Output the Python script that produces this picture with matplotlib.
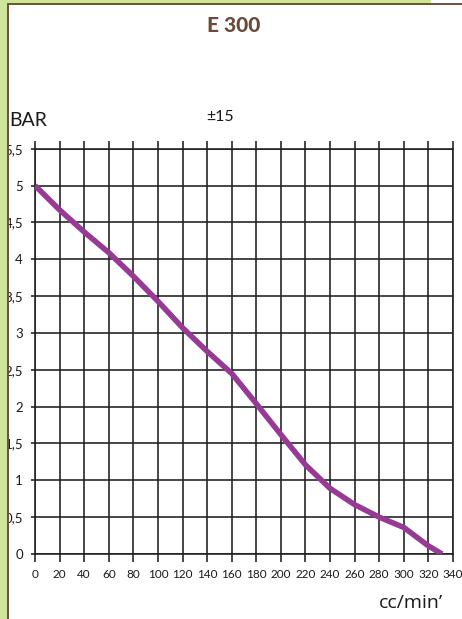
import matplotlib
matplotlib.use("Agg")
import matplotlib.pyplot as plt
from matplotlib.patches import Rectangle

# flow (cc/min) vs pressure (bar)
flow = [0, 20, 40, 60, 80, 100, 120, 140, 160, 180, 200, 220, 240, 260, 280, 300, 320, 331]
pressure = [5.0, 4.67, 4.37, 4.09, 3.77, 3.43, 3.07, 2.75, 2.45, 2.04, 1.62, 1.21, 0.89, 0.67, 0.50, 0.36, 0.11, 0.0]

x_ticks = list(range(0, 341, 20))
y_ticks = [i * 0.5 for i in range(12)]
y_labels = ["0", "0,5", "1", "1,5", "2", "2,5", "3", "3,5", "4", "4,5", "5", "5,5"]

W, H = 462, 619
fig = plt.figure(figsize=(W / 100, H / 100), dpi=100)
fig.patch.set_facecolor("white")

ax = fig.add_axes([35 / W, (H - 554) / H, 418 / W, (554 - 148.7) / H])
ax.set_xlim(0, 340)
ax.set_ylim(0, 5.5)

grid_col = "#1e1e1e"
ax.set_xticks(x_ticks)
ax.set_xticklabels([str(v) for v in x_ticks])
ax.set_yticks(y_ticks)
ax.set_yticklabels(y_labels)
ax.grid(True, color=grid_col, lw=1.15)
for s in ax.spines.values():
    s.set_color(grid_col)
    s.set_linewidth(1.15)

lab_font = ["Lato", "DejaVu Sans"]
ax.tick_params(axis="x", top=True, direction="out", length=6, width=1.15,
               color=grid_col, pad=4.5, labelsize=8.5, labelcolor="#1a1a1a")
ax.tick_params(axis="y", direction="out", length=2.6, width=1.15,
               color=grid_col, pad=6, labelsize=9.5, labelcolor="#1a1a1a")
for lab in ax.get_xticklabels() + ax.get_yticklabels():
    lab.set_fontfamily(lab_font)

ax.plot(flow, pressure, color="#963a96", lw=4, solid_capstyle="butt", zorder=3)

fig.text(234 / W, 1 - 26 / H, "E 300", ha="center", va="center",
         fontsize=15, fontweight="black", color="#6b4a3a", family=["Lato", "DejaVu Sans"])
fig.text(47 / W, 1 - 120 / H, "BAR", ha="right", va="center", fontsize=14,
         color="#1a1a1a", family=["Lato", "DejaVu Sans"])
fig.text(220 / W, 1 - 117 / H, "±15", ha="center", va="center", fontsize=11.5,
         color="#1a1a1a", family=["Lato", "DejaVu Sans"])
fig.text(443 / W, 1 - 603 / H, "cc/min’", ha="right", va="center", fontsize=14,
         color="#1a1a1a", family=["Open Sans", "DejaVu Sans"])

# page frame: green margin and brown rule on the left and top
green = "#d0e59c"
brown = "#6e5343"
frame = [
    (0, 0, 6.5, H, green),
    (6.5, 0, 2.2, H, brown),
    (0, H - 2.7, 431, 2.7, green),
    (6.5, H - 4.9, W - 6.5, 2.2, brown),
]
for x0, y0, w, h, c in frame:
    fig.add_artist(Rectangle((x0 / W, y0 / H), w / W, h / H, transform=fig.transFigure,
                             facecolor=c, edgecolor="none", zorder=20))

fig.savefig("out.png", dpi=100)
